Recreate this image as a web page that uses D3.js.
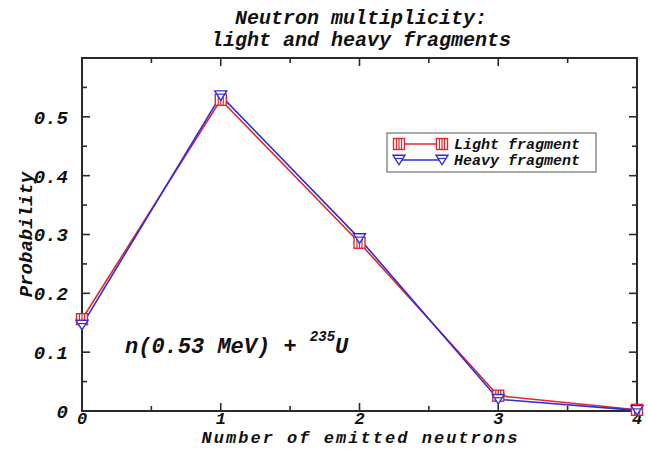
<!DOCTYPE html>
<html>
<head>
<meta charset="utf-8">
<script src="https://cdn.jsdelivr.net/npm/d3@7"></script>
<style>
  html, body { margin: 0; padding: 0; background: #fff; }
  svg text { font-family: "Liberation Mono", "DejaVu Sans Mono", monospace; font-weight: bold; font-style: italic; fill: #111; }
</style>
</head>
<body>
<svg id="chart" width="648" height="449"></svg>
<script>
// Neutron multiplicity per fragment, n(0.53 MeV) + 235U
const neutrons = [0, 1, 2, 3, 4];
const lightFragment = [0.156, 0.529, 0.286, 0.026, 0.002];
const heavyFragment = [0.146, 0.536, 0.293, 0.020, 0.001];
const xTickLabels = ["0", "1", "2", "3", "4"];
const yTickValues = [0, 0.1, 0.2, 0.3, 0.4, 0.5];
const yTickLabels = ["0", "0.1", "0.2", "0.3", "0.4", "0.5"];

const svg = d3.select("#chart");
const margin = { left: 82, right: 11, top: 58, bottom: 38 };
const W = 648, H = 449;
const x = d3.scaleLinear().domain([0, 4]).range([margin.left, W - margin.right]);
const y = d3.scaleLinear().domain([0, 0.6]).range([H - margin.bottom, margin.top]);

const axisColor = "#2a2a2a";
const red = "#e3262b";
const blue = "#2f2fd8";

// Major / minor ticks on all four sides
const xMajor = neutrons;
const xMinor = d3.range(0.5, 4, 1);
const yMinor = d3.range(0.05, 0.6, 0.1);
const major = 8, minor = 5;

const ticks = svg.append("g").attr("stroke", axisColor).attr("stroke-width", 1.6);
xMajor.concat(xMinor).forEach(v => {
  const len = xMajor.includes(v) ? major : minor;
  ticks.append("line").attr("x1", x(v)).attr("x2", x(v)).attr("y1", y(0)).attr("y2", y(0) - len);
  ticks.append("line").attr("x1", x(v)).attr("x2", x(v)).attr("y1", y(0.6)).attr("y2", y(0.6) + len);
});
yTickValues.concat([0.6]).concat(yMinor).forEach(v => {
  const len = yMinor.some(m => Math.abs(m - v) < 1e-9) ? minor : major;
  ticks.append("line").attr("x1", x(0)).attr("x2", x(0) + len).attr("y1", y(v)).attr("y2", y(v));
  ticks.append("line").attr("x1", x(4)).attr("x2", x(4) - len).attr("y1", y(v)).attr("y2", y(v));
});

// Frame
svg.append("rect")
  .attr("x", x(0)).attr("y", y(0.6))
  .attr("width", x(4) - x(0)).attr("height", y(0) - y(0.6))
  .attr("fill", "none").attr("stroke", axisColor).attr("stroke-width", 2);

// Tick labels
svg.append("g").selectAll("text").data(xMajor).join("text")
  .attr("x", d => x(d)).attr("y", y(0) + 13)
  .attr("text-anchor", "middle").attr("font-size", 17)
  .text((d, i) => xTickLabels[i]);

svg.append("g").selectAll("text").data(yTickValues).join("text")
  .attr("x", x(0) - 14).attr("y", d => y(d)).attr("dy", "0.36em")
  .attr("text-anchor", "end").attr("font-size", 19)
  .text((d, i) => yTickLabels[i]);

// Axis titles
svg.append("text").attr("x", x(2)).attr("y", 443)
  .attr("text-anchor", "middle").attr("font-size", 17)
  .attr("textLength", 316).attr("lengthAdjust", "spacing")
  .text("Number of emitted neutrons");

svg.append("text")
  .attr("transform", `translate(32, ${y(0.3)}) rotate(-90)`)
  .attr("text-anchor", "middle").attr("font-size", 19)
  .text("Probability");

// Title
svg.append("text").attr("x", 361).attr("y", 24)
  .attr("text-anchor", "middle").attr("font-size", 20)
  .text("Neutron multiplicity:");
svg.append("text").attr("x", 361).attr("y", 46)
  .attr("text-anchor", "middle").attr("font-size", 20)
  .text("light and heavy fragments");

// Marker painters
function squareMarker(g, cx, cy, color) {
  const s = 5.5;
  g.append("rect").attr("x", cx - s).attr("y", cy - s).attr("width", 2 * s).attr("height", 2 * s)
    .attr("fill", "#fff").attr("stroke", color).attr("stroke-width", 1.4);
  [-2.5, 0, 2.5].forEach(dx => {
    g.append("line").attr("x1", cx + dx).attr("x2", cx + dx).attr("y1", cy - s).attr("y2", cy + s)
      .attr("stroke", color).attr("stroke-width", 1.2);
  });
}
function triangleMarker(g, cx, cy, color) {
  const s = 6;
  g.append("path")
    .attr("d", `M${cx - s},${cy - s * 0.8}L${cx + s},${cy - s * 0.8}L${cx},${cy + s * 0.8}Z`)
    .attr("fill", "#fff").attr("stroke", color).attr("stroke-width", 1.4);
  g.append("line").attr("x1", cx - s * 0.6).attr("x2", cx + s * 0.6).attr("y1", cy - s * 0.25).attr("y2", cy - s * 0.25)
    .attr("stroke", color).attr("stroke-width", 1.2);
}

const line = d3.line().x((d, i) => x(neutrons[i])).y(d => y(d));

const series = [
  { values: lightFragment, color: red, marker: squareMarker },
  { values: heavyFragment, color: blue, marker: triangleMarker }
];

series.forEach(s => {
  svg.append("path").datum(s.values).attr("d", line)
    .attr("fill", "none").attr("stroke", s.color).attr("stroke-width", 1.6);
});
series.forEach(s => {
  const g = svg.append("g");
  s.values.forEach((v, i) => s.marker(g, x(neutrons[i]), y(v), s.color));
});

// Reaction annotation
const note = svg.append("text").attr("x", 125).attr("y", 353).attr("font-size", 22);
note.append("tspan").text("n(0.53 MeV) + ");
note.append("tspan").attr("font-size", 14).attr("dy", -12).text("235");
note.append("tspan").attr("dy", 12).text("U");

// Legend
const legend = svg.append("g");
legend.append("rect").attr("x", 387).attr("y", 133).attr("width", 209).attr("height", 39)
  .attr("fill", "#fff").attr("stroke", "#555").attr("stroke-width", 1);
const legendItems = [
  { label: "Light fragment", color: red, marker: squareMarker, yy: 144 },
  { label: "Heavy fragment", color: blue, marker: triangleMarker, yy: 160 }
];
legendItems.forEach(it => {
  legend.append("line").attr("x1", 399).attr("x2", 442).attr("y1", it.yy).attr("y2", it.yy)
    .attr("stroke", it.color).attr("stroke-width", 1.5);
  it.marker(legend, 399, it.yy, it.color);
  it.marker(legend, 442, it.yy, it.color);
  legend.append("text").attr("x", 454).attr("y", it.yy).attr("dy", "0.35em")
    .attr("font-size", 15).text(it.label);
});
</script>
</body>
</html>
